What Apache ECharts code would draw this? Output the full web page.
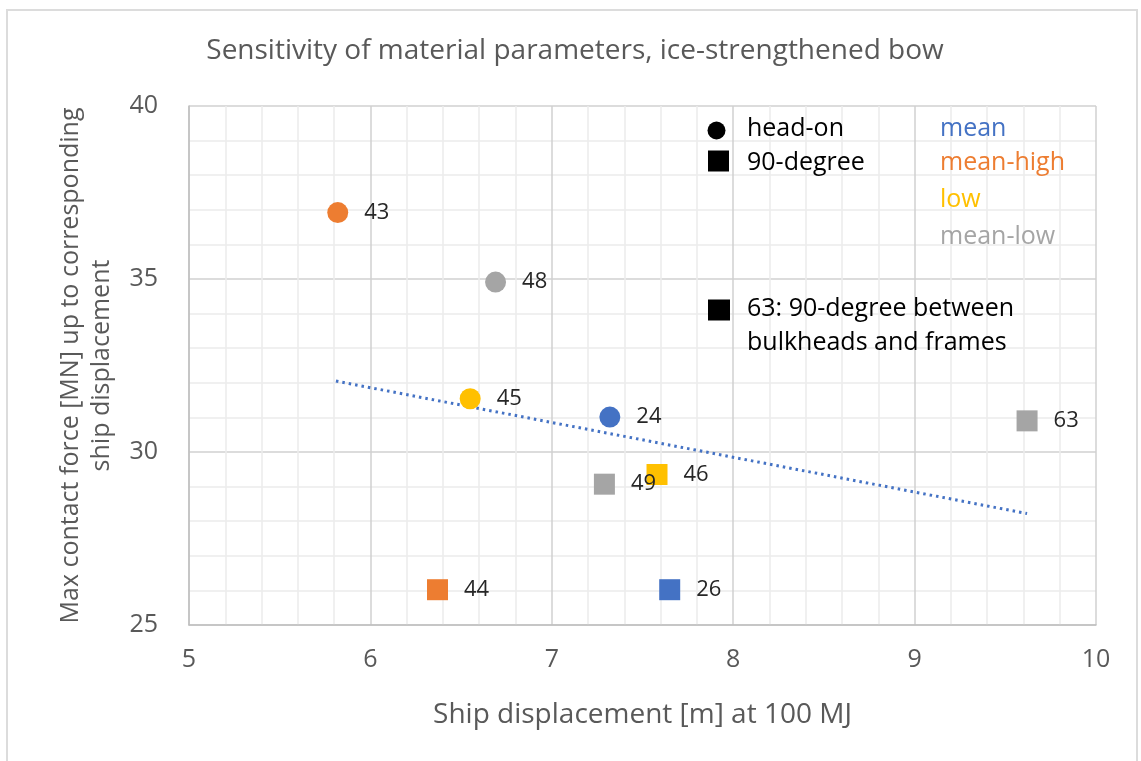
<!DOCTYPE html>
<html>
<head>
<meta charset="utf-8">
<script src="https://cdn.jsdelivr.net/npm/echarts@6/dist/echarts.min.js"></script>
<style>
html,body{margin:0;padding:0;background:#fff;}
#chart{width:1141px;height:761px;}
</style>
</head>
<body>
<div id="chart"></div>
<script>
// ---- data ----
const caseIds      = ['43', '48', '45', '24', '44', '49', '46', '26', '63'];
const materials    = ['mean-high', 'mean-low', 'low', 'mean', 'mean-high', 'mean-low', 'low', 'mean', 'mean-low'];
const impacts      = ['head-on', 'head-on', 'head-on', 'head-on', '90-degree', '90-degree', '90-degree', '90-degree', '90-degree'];
const displacement = [5.82, 6.69, 6.55, 7.32, 6.37, 7.29, 7.58, 7.65, 9.62];
const force        = [36.92, 34.91, 31.54, 31.01, 26.02, 29.07, 29.35, 26.02, 30.90];
const trendX       = [5.81, 9.62];
const trendY       = [32.05, 28.22];
const xTicks       = [5, 6, 7, 8, 9, 10];
const yTicks       = [25, 30, 35, 40];
const materialNames = ['mean', 'mean-high', 'low', 'mean-low'];
const impactNames   = ['head-on', '90-degree'];

// ---- styles ----
const FONT = '"Open Sans", "Noto Sans", sans-serif';
const materialColors = {'mean': '#4472C4', 'mean-high': '#ED7D31', 'low': '#FFC000', 'mean-low': '#A5A5A5'};
const impactSymbols = {'head-on': 'circle', '90-degree': 'rect'};

const series = [];
impactNames.forEach(function (imp) {
  materialNames.forEach(function (mat) {
    const pts = [];
    for (let i = 0; i < caseIds.length; i++) {
      if (impacts[i] === imp && materials[i] === mat) {
        pts.push({value: [displacement[i], force[i]], name: caseIds[i]});
      }
    }
    if (pts.length) {
      series.push({
        type: 'scatter',
        name: imp + ' ' + mat,
        symbol: impactSymbols[imp],
        symbolSize: 21,
        itemStyle: {color: materialColors[mat], opacity: 1},
        label: {
          show: true, position: 'right', distance: 16,
          formatter: function (p) { return p.name; },
          color: '#262626', fontSize: 22, fontFamily: FONT
        },
        data: pts,
        z: 3
      });
    }
  });
});
series.push({
  type: 'line',
  name: 'trend',
  data: trendX.map(function (x, i) { return [x, trendY[i]]; }),
  symbol: 'none',
  lineStyle: {color: '#4472C4', width: 3, type: [2.5, 4]},
  silent: true,
  z: 2
});

const textCol = '#595959';
const annot = [];
function txt(x, y, s, color) {
  annot.push({type: 'text', x: x, y: y, z: 100, style: {text: s, fill: color, font: '25px ' + FONT, textVerticalAlign: 'middle'}});
}
annot.push({type: 'rect', z: 100, shape: {x: 7, y: 10, width: 1130, height: 800}, style: {fill: null, stroke: '#dcdcdc', lineWidth: 2}, silent: true});
annot.push({type: 'text', z: 100, x: 575, y: 51, style: {text: 'Sensitivity of material parameters, ice-strengthened bow', fill: textCol, font: '28px ' + FONT, textAlign: 'center', textVerticalAlign: 'middle'}});
annot.push({type: 'circle', z: 100, shape: {cx: 716.5, cy: 130.5, r: 9}, style: {fill: '#000'}});
annot.push({type: 'rect', z: 100, shape: {x: 708, y: 150.5, width: 21, height: 21}, style: {fill: '#000'}});
annot.push({type: 'rect', z: 100, shape: {x: 708, y: 299.5, width: 22, height: 21}, style: {fill: '#000'}});
txt(747, 129, impactNames[0], '#000');
txt(747, 163, impactNames[1], '#000');
txt(940, 129, materialNames[0], materialColors['mean']);
txt(940, 163, materialNames[1], materialColors['mean-high']);
txt(940, 200, materialNames[2], materialColors['low']);
txt(940, 237, materialNames[3], materialColors['mean-low']);
txt(747, 309, '63: 90-degree between', '#000');
txt(747, 343, 'bulkheads and frames', '#000');

const chart = echarts.init(document.getElementById('chart'));
chart.setOption({
  backgroundColor: '#fff',
  animation: false,
  grid: {left: 189, right: 45, top: 106, bottom: 136, containLabel: false},
  xAxis: {
    type: 'value', min: xTicks[0], max: xTicks[xTicks.length - 1], interval: 1,
    name: 'Ship displacement [m] at 100 MJ', nameLocation: 'middle', nameGap: 76,
    nameTextStyle: {color: textCol, fontSize: 28, fontFamily: FONT},
    axisLine: {show: true, lineStyle: {color: '#bfbfbf', width: 1.5}},
    axisTick: {show: false},
    axisLabel: {color: textCol, fontSize: 25, fontFamily: FONT, margin: 22},
    splitLine: {show: true, lineStyle: {color: '#d0d0d0', width: 1.5}},
    minorTick: {show: false, splitNumber: 5},
    minorSplitLine: {show: true, lineStyle: {color: '#ebebeb', width: 1.5}}
  },
  yAxis: {
    type: 'value', min: yTicks[0], max: yTicks[yTicks.length - 1], interval: 5,
    name: 'Max contact force [MN] up to corresponding\nship displacement', nameLocation: 'middle', nameGap: 72,
    nameTextStyle: {color: textCol, fontSize: 25, fontFamily: FONT, lineHeight: 31},
    axisLine: {show: true, lineStyle: {color: '#bfbfbf', width: 1.5}},
    axisTick: {show: false},
    axisLabel: {color: textCol, fontSize: 25, fontFamily: FONT, margin: 31},
    splitLine: {show: true, lineStyle: {color: '#d0d0d0', width: 1.5}},
    minorTick: {show: false, splitNumber: 5},
    minorSplitLine: {show: true, lineStyle: {color: '#ebebeb', width: 1.5}}
  },
  graphic: annot,
  series: series
});
</script>
</body>
</html>
